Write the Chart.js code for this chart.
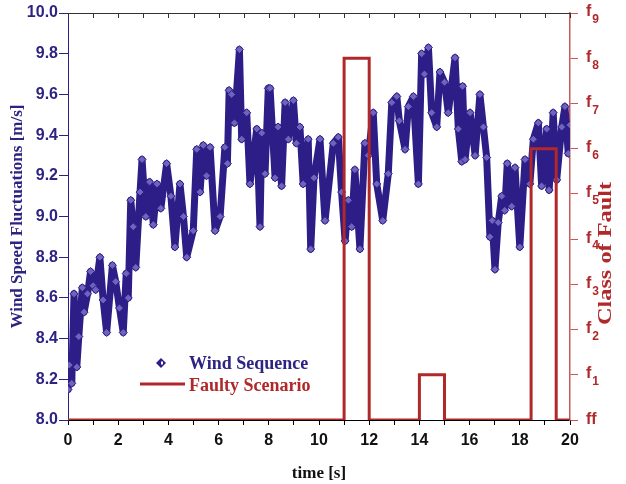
<!DOCTYPE html>
<html>
<head>
<meta charset="utf-8">
<script src="https://cdn.jsdelivr.net/npm/chart.js@4.4.1/dist/chart.umd.min.js"></script>
<style>
    html, body { margin: 0; padding: 0; background: #ffffff; }
    #chart { display: block; }
</style>
</head>
<body>
<canvas id="chart" width="626" height="484"></canvas>
<script>
// ----------------------------------------------------------------------------
// Data
// ----------------------------------------------------------------------------

const windTime = [
    0, 0.05, 0.15, 0.24, 0.35, 0.43, 0.57, 0.64, 0.78, 0.9,
    1.0, 1.1, 1.27, 1.4, 1.54, 1.77, 1.9, 2.05, 2.2, 2.32,
    2.4, 2.5, 2.6, 2.7, 2.87, 2.95, 3.1, 3.25, 3.4, 3.55,
    3.7, 3.93, 4.1, 4.26, 4.46, 4.6, 4.73, 4.99, 5.13, 5.26,
    5.39, 5.52, 5.66, 5.86, 6.06, 6.25, 6.35, 6.42, 6.52, 6.63,
    6.83, 6.92, 7.12, 7.25, 7.52, 7.65, 7.72, 7.85, 7.98, 8.05,
    8.25, 8.37, 8.51, 8.65, 8.78, 8.98, 9.1, 9.24, 9.37, 9.57,
    9.67, 9.8, 10.04, 10.24, 10.57, 10.77, 10.9, 11.04, 11.17, 11.3,
    11.43, 11.63, 11.83, 11.96, 12.16, 12.3, 12.54, 12.76, 12.9, 13.1,
    13.2, 13.43, 13.56, 13.76, 13.96, 14.09, 14.2, 14.36, 14.49, 14.69,
    14.82, 15.0, 15.15, 15.42, 15.55, 15.69, 15.72, 15.82, 16.02, 16.22,
    16.41, 16.55, 16.68, 16.81, 16.9, 17.01, 17.14, 17.28, 17.4, 17.5,
    17.68, 17.81, 18.0, 18.21, 18.4, 18.54, 18.74, 18.87, 19.07, 19.17,
    19.33, 19.47, 19.67, 19.8, 19.93, 20
];

const windSpeed = [
    8.15, 8.27, 8.18, 8.62, 8.26, 8.41, 8.65, 8.53, 8.62, 8.73,
    8.66, 8.64, 8.80, 8.59, 8.43, 8.76, 8.68, 8.55, 8.43, 8.72,
    8.60, 9.08, 8.95, 8.75, 9.12, 9.28, 9.00, 9.17, 8.96, 9.16,
    9.04, 9.26, 9.10, 8.85, 9.16, 9.00, 8.80, 8.93, 9.33, 9.12,
    9.35, 9.20, 9.34, 8.93, 9.00, 9.34, 9.26, 9.62, 9.60, 9.46,
    9.82, 9.38, 9.51, 9.16, 9.43, 8.95, 9.41, 9.21, 9.63, 9.63,
    9.19, 9.44, 9.15, 9.56, 9.38, 9.57, 9.36, 9.44, 9.16, 9.38,
    8.84, 9.19, 9.38, 8.98, 9.36, 9.39, 9.12, 8.88, 9.08, 8.95,
    9.23, 8.84, 9.36, 9.30, 9.51, 9.16, 8.98, 9.21, 9.56, 9.59,
    9.47, 9.33, 9.54, 9.59, 9.16, 9.80, 9.70, 9.83, 9.51, 9.44,
    9.71, 9.66, 9.51, 9.78, 9.43, 9.27, 9.64, 9.28, 9.51, 9.30,
    9.60, 9.44, 9.29, 8.90, 8.98, 8.74, 8.97, 9.10, 9.03, 9.26,
    9.05, 9.24, 8.85, 9.28, 9.16, 9.38, 9.46, 9.15, 9.43, 9.13,
    9.51, 9.18, 9.44, 9.54, 9.31, 9.45
];

// fault class held from each time until the next one
const faultTime = [0, 11, 12, 14, 15, 18.45, 19.45, 20];
const faultClass = [0, 8, 0, 1, 0, 6, 0, 0];

const classLabels = ['ff', 'f1', 'f2', 'f3', 'f4', 'f5', 'f6', 'f7', 'f8', 'f9'];

// ----------------------------------------------------------------------------
// Colours and fonts
// ----------------------------------------------------------------------------

const BLUE = '#2c1d87';
const BLUE_TEXT = '#2d2382';
const RED = '#b0282a';
const RED_AXIS = '#c8585a';
const SANS = '"Liberation Sans", Arial, sans-serif';
const SERIF = '"Liberation Serif", "Times New Roman", serif';

// ----------------------------------------------------------------------------
// Plugins
// ----------------------------------------------------------------------------

// top frame line with inward ticks
const framePlugin = {
    id: 'frame',
    afterDatasetsDraw(chart) {
        const { ctx, chartArea, scales } = chart;
        ctx.save();
        ctx.strokeStyle = '#333333';
        ctx.lineWidth = 1;
        ctx.beginPath();
        ctx.moveTo(chartArea.left, chartArea.top + 0.5);
        ctx.lineTo(chartArea.right, chartArea.top + 0.5);
        scales.x.ticks.forEach(t => {
            const px = Math.round(scales.x.getPixelForValue(t.value)) + 0.5;
            ctx.moveTo(px, chartArea.top);
            ctx.lineTo(px, chartArea.top + 5);
        });
        ctx.stroke();
        ctx.restore();
    }
};

// right axis labels "f" with subscript index, plus the right axis title
const classAxisPlugin = {
    id: 'classAxis',
    afterDraw(chart) {
        const { ctx } = chart;
        const scale = chart.scales.y1;
        const x0 = scale.left + 16;
        ctx.save();
        ctx.fillStyle = RED;
        ctx.textBaseline = 'middle';
        ctx.textAlign = 'left';
        scale.ticks.forEach(t => {
            const label = classLabels[t.value];
            if (!label) return;
            const py = scale.getPixelForValue(t.value);
            ctx.font = 'bold 16px ' + SANS;
            if (label === 'ff') {
                ctx.fillText('ff', x0, py);
                return;
            }
            ctx.fillText('f', x0, py - 1);
            const w = ctx.measureText('f').width;
            ctx.font = 'bold 12px ' + SANS;
            ctx.fillText(label.slice(1), x0 + w + 1, py + 7);
        });

        // title, drawn stretched like the original
        const cy = (chart.chartArea.top + chart.chartArea.bottom) / 2 + 37;
        ctx.translate(scale.right - 20, cy);
        ctx.rotate(-Math.PI / 2);
        ctx.scale(1.35, 1);
        ctx.textAlign = 'center';
        ctx.font = 'bold 18px ' + SERIF;
        ctx.fillText('Class of Fault', 0, 0);
        ctx.restore();
    }
};

// legend inside the plot area
const legendPlugin = {
    id: 'innerLegend',
    afterDraw(chart) {
        const { ctx, chartArea } = chart;
        const x = chartArea.left + 72;
        const y = chartArea.bottom - 57;
        ctx.save();
        // diamond marker
        ctx.fillStyle = BLUE;
        ctx.beginPath();
        ctx.moveTo(x + 21, y - 5);
        ctx.lineTo(x + 26, y);
        ctx.lineTo(x + 21, y + 5);
        ctx.lineTo(x + 16, y);
        ctx.closePath();
        ctx.fill();
        ctx.fillStyle = '#ffffff';
        ctx.fillRect(x + 21, y - 1.5, 2, 3);
        // line marker
        ctx.strokeStyle = RED;
        ctx.lineWidth = 3;
        ctx.beginPath();
        ctx.moveTo(x, y + 21);
        ctx.lineTo(x + 45, y + 21);
        ctx.stroke();
        // texts
        ctx.font = 'bold 18px ' + SERIF;
        ctx.textBaseline = 'middle';
        ctx.fillStyle = BLUE_TEXT;
        ctx.fillText('Wind Sequence', x + 49, y + 1);
        ctx.fillStyle = RED;
        ctx.fillText('Faulty Scenario', x + 49, y + 23);
        ctx.restore();
    }
};

// ----------------------------------------------------------------------------
// Chart
// ----------------------------------------------------------------------------

const windPoints = windTime.map((t, i) => ({ x: t, y: windSpeed[i] }));
const faultPoints = faultTime.map((t, i) => ({ x: t, y: faultClass[i] }));

new Chart(document.getElementById('chart'), {
    type: 'line',
    data: {
        datasets: [
            {
                label: 'Wind Sequence',
                data: windPoints,
                yAxisID: 'y',
                borderColor: BLUE,
                borderWidth: 7,
                borderJoinStyle: 'round',
                borderCapStyle: 'round',
                tension: 0,
                pointStyle: 'rectRot',
                pointRadius: 4,
                pointBorderWidth: 1,
                pointBorderColor: BLUE,
                pointBackgroundColor: '#6e64bd',
                order: 2
            },
            {
                label: 'Faulty Scenario',
                data: faultPoints,
                yAxisID: 'y1',
                stepped: 'before',
                borderColor: RED,
                borderWidth: 3,
                pointRadius: 0,
                fill: false,
                order: 1
            }
        ]
    },
    options: {
        responsive: false,
        animation: false,
        devicePixelRatio: 1,
        layout: { padding: { top: 13, left: 0, right: 0, bottom: 0 } },
        plugins: {
            legend: { display: false },
            tooltip: { enabled: false }
        },
        scales: {
            x: {
                type: 'linear',
                min: 0,
                max: 20,
                afterFit: s => { s.height = 64; },
                border: { color: '#000000', width: 1 },
                grid: { drawOnChartArea: false, tickLength: 5, color: '#000000' },
                ticks: {
                    stepSize: 1,
                    autoSkip: false,
                    maxRotation: 0,
                    padding: 6,
                    color: '#111111',
                    font: { family: SANS, size: 16, weight: 'bold' },
                    callback: v => (v % 2 === 0 ? String(v) : '')
                },
                title: {
                    display: true,
                    text: 'time [s]',
                    color: '#111111',
                    padding: { top: 5, bottom: 0 },
                    font: { family: SERIF, size: 17, weight: 'bold' }
                }
            },
            y: {
                position: 'left',
                min: 8,
                max: 10,
                afterFit: s => { s.width = 68; },
                border: { color: BLUE, width: 1 },
                grid: { drawOnChartArea: false, tickLength: 9, color: BLUE },
                ticks: {
                    stepSize: 0.2,
                    padding: 1,
                    color: BLUE_TEXT,
                    font: { family: SANS, size: 16, weight: 'bold' },
                    callback: v => v.toFixed(1)
                },
                title: {
                    display: true,
                    text: 'Wind Speed Fluctuations [m/s]',
                    color: BLUE_TEXT,
                    padding: { top: 7, bottom: 0 },
                    font: { family: SERIF, size: 17, weight: 'bold' }
                }
            },
            y1: {
                position: 'right',
                min: 0,
                max: 9,
                afterFit: s => { s.width = 56; },
                border: { color: RED_AXIS, width: 1.5 },
                grid: { drawOnChartArea: false, tickLength: 8, color: RED_AXIS },
                ticks: {
                    stepSize: 1,
                    callback: () => ''
                }
            }
        }
    },
    plugins: [framePlugin, classAxisPlugin, legendPlugin]
});
</script>
</body>
</html>
